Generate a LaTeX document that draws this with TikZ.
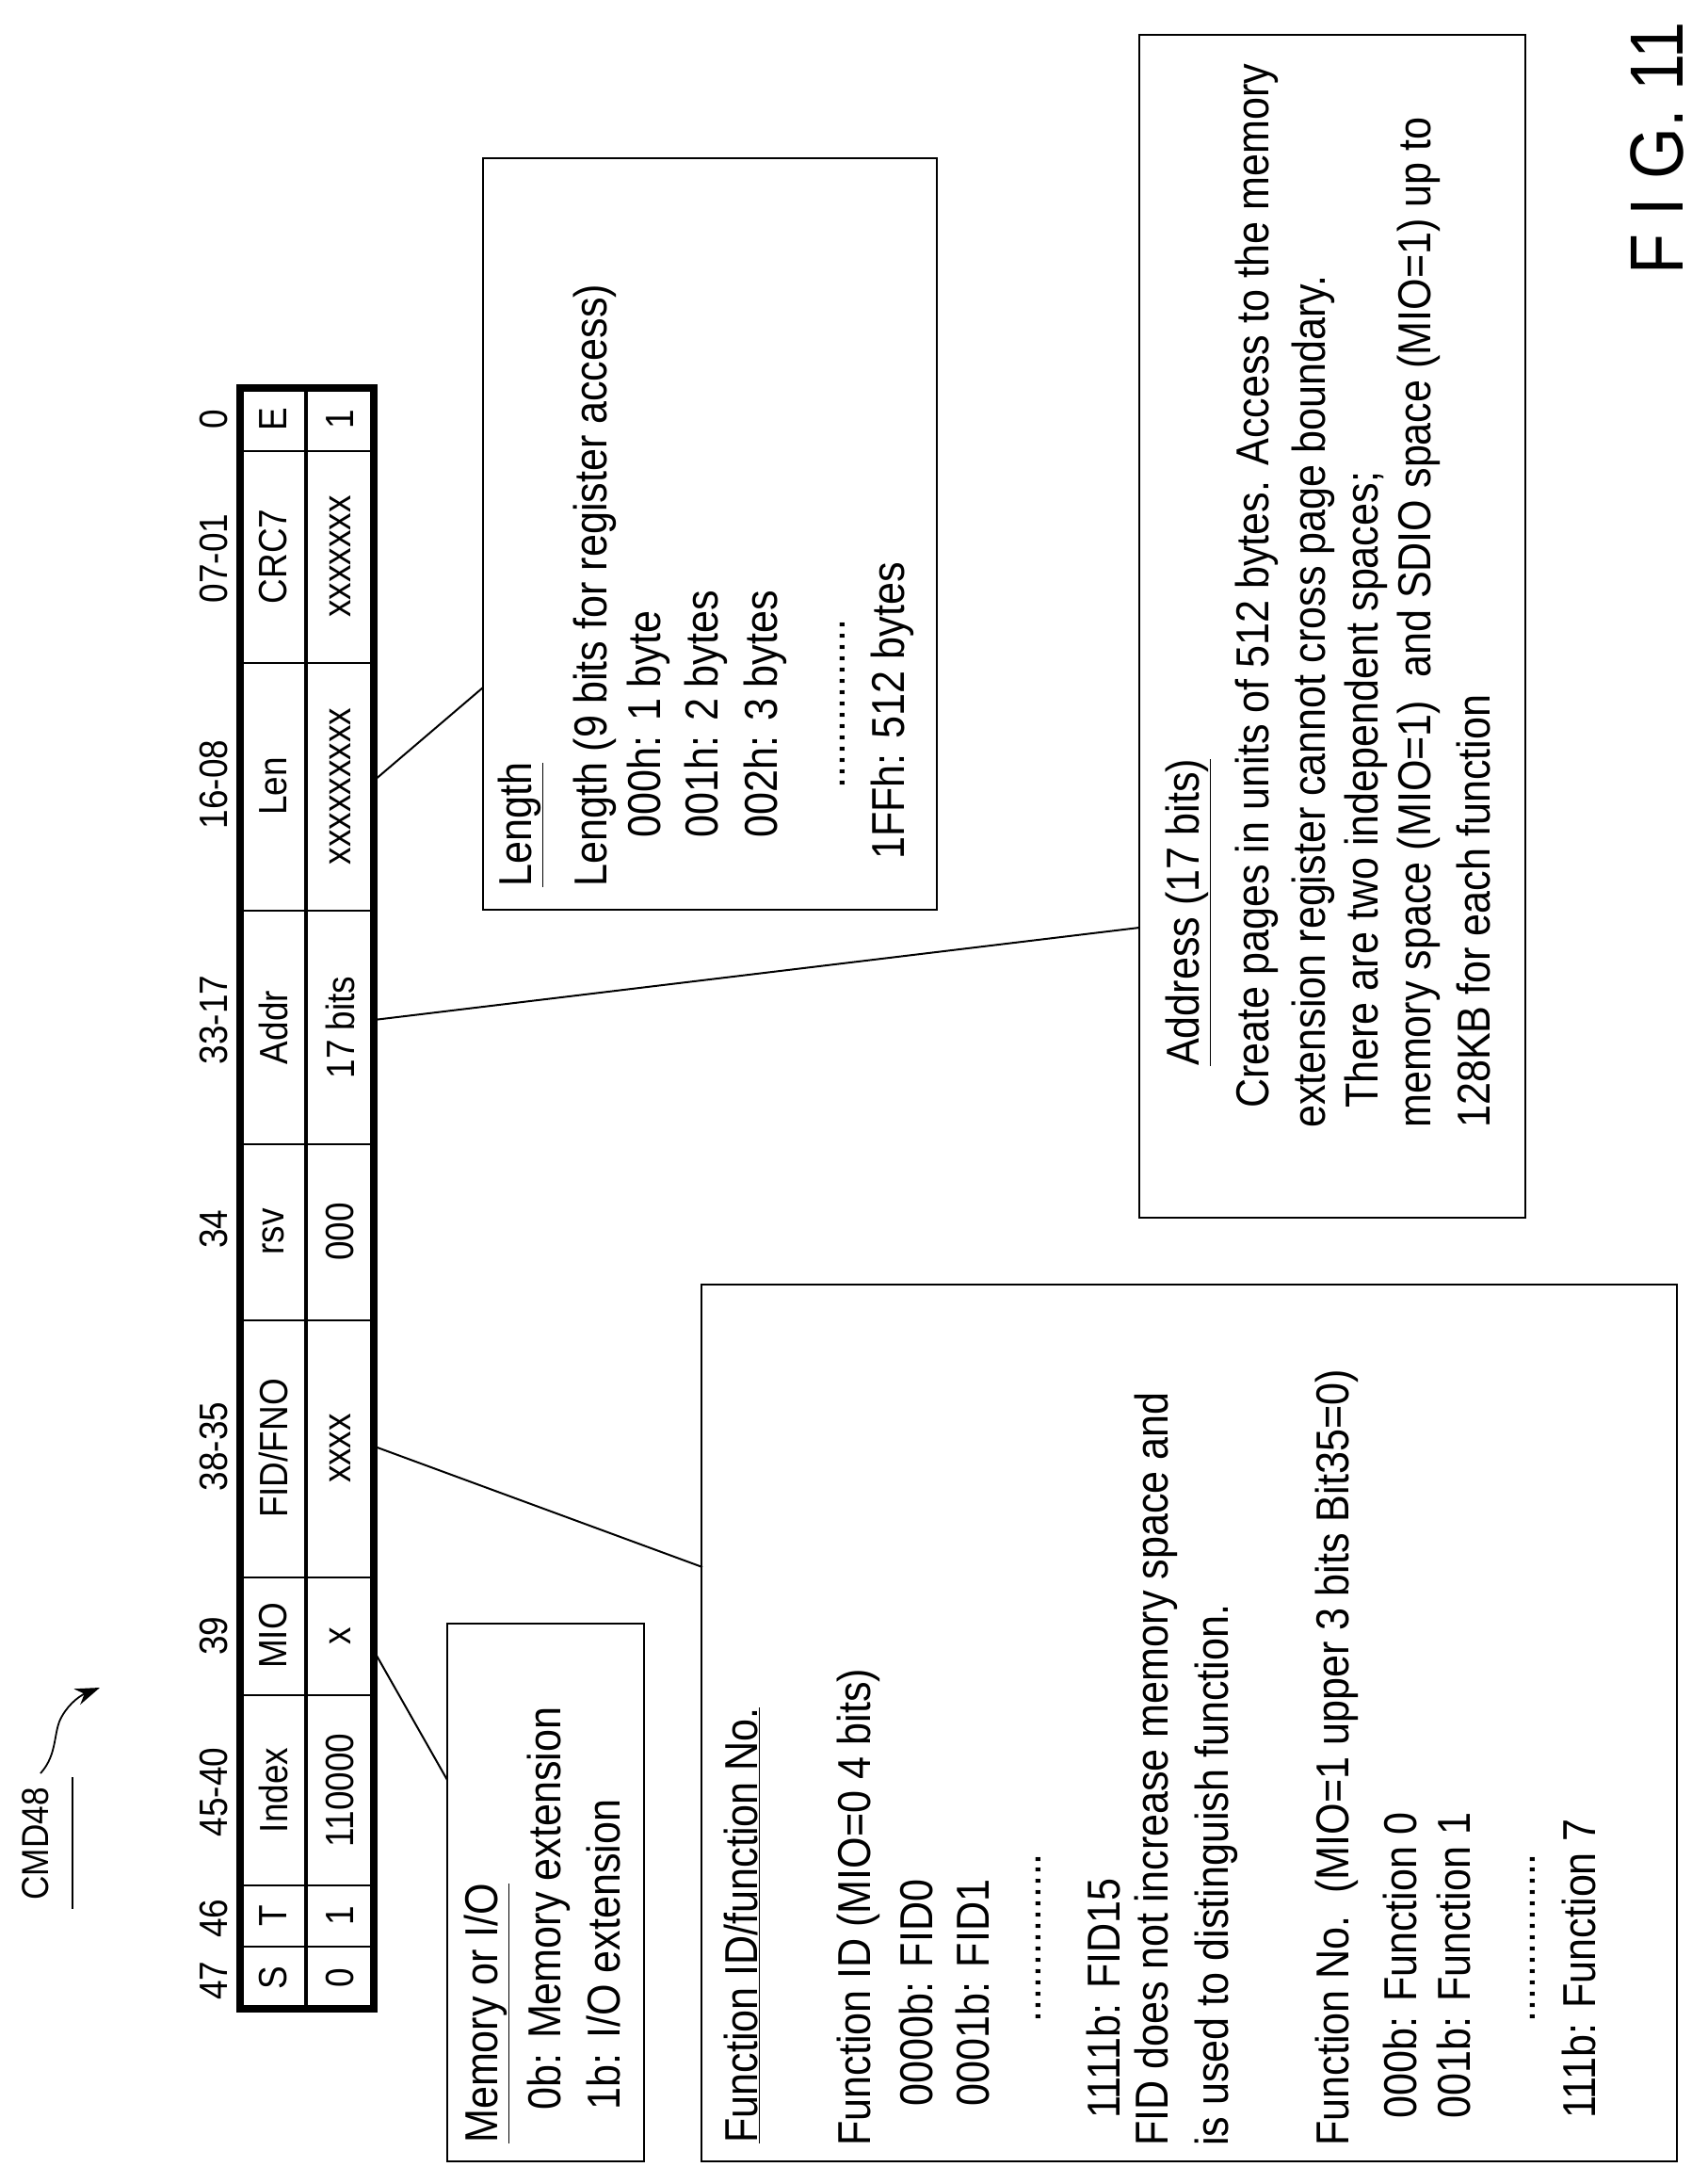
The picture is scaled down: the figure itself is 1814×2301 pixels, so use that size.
\documentclass[tikz,border=0pt]{standalone}
\usepackage{fontspec}
\setmainfont{Liberation Sans}[FakeStretch=0.88]
\usetikzlibrary{arrows.meta}
\newcommand\fsTab{\fontsize{42}{50}\selectfont}
\newcommand\fsBx{\fontsize{49}{58}\selectfont}
\newcommand\fsFg{\fontsize{80}{90}\selectfont}
\begin{document}
\begin{tikzpicture}[x=1pt,y=-1pt,
  cell/.style={rotate=90,inner sep=0,font=\fsTab},
  txt/.style={rotate=90,anchor=west,inner sep=0,font=\fsBx},
  bx/.style={draw,line width=2.5pt},
  conn/.style={line width=2pt}]
\useasboundingbox (0,0) rectangle (1814,2301);
% table
\draw[line width=2pt] (255,479)--(397,479) (255,704)--(397,704) (255,967)--(397,967)
  (255,1215)--(397,1215) (255,1402)--(397,1402) (255,1675)--(397,1675)
  (255,1800)--(397,1800) (255,2002)--(397,2002) (255,2067)--(397,2067);
\draw[line width=3.5pt] (325,412)--(325,2133);
\node[draw,line width=8pt,minimum width=142pt,minimum height=1721pt,inner sep=0] (tbl) at (326,1272.5) {};
% bit labels
\foreach \t/\y [count=\i] in {0/445,07-01/593,16-08/833,33-17/1083,34/1305,38-35/1536,39/1737,45-40/1903,46/2037,47/2103}
  \node[cell] (b\i) at (227,\y) {\t};
% headers
\foreach \t/\y [count=\i] in {E/445,CRC7/591,Len/835,Addr/1091,rsv/1308,{FID/FNO}/1538,MIO/1737,Index/1901,T/2034,S/2100}
  \node[cell] (h\i) at (290,\y) {\t};
\foreach \t/\y [count=\i] in {1/445,xxxxxxx/591,xxxxxxxxx/835,17 bits/1091,000/1308,xxxx/1538,x/1737,110000/1901,1/2034,0/2100}
  \node[cell] (v\i) at (361,\y) {\t};
% CMD48
\node[cell,font=\fontsize{40}{48}\selectfont] (cmd) at (38,1958) {CMD48};
\draw[line width=2pt] (77,1887)--(77,2027);
\coordinate (ca) at (43,1883);
\coordinate (cb) at (106,1792);
\draw[line width=1.8pt,-{Stealth[length=26pt,width=18pt]}] (ca) .. controls (62,1862) and (56,1838) .. (66,1822) .. controls (74,1808) and (86,1800) .. (cb);
% FIG
\node[rotate=90,anchor=west,inner sep=0,font=\fsFg] (fig) at (1760,292) {F I G. 11};
% boxes
\node[bx,minimum width=209pt,minimum height=571pt,inner sep=0] (mbox) at (579.5,2009.5) {};
\node[bx,minimum width=1036pt,minimum height=931pt,inner sep=0] (fbox) at (1263,1829.5) {};
\node[bx,minimum width=482pt,minimum height=798pt,inner sep=0] (lbox) at (754,567) {};
\node[bx,minimum width=410pt,minimum height=1256pt,inner sep=0] (abox) at (1415,665) {};
% connectors
\coordinate (c1) at (397,829); \coordinate (c2) at (397,1083);
\coordinate (c3) at (398,1536); \coordinate (c4) at (400,1758);
\draw[conn] (c1)--(513,730) (c2)--(1210,985) (c3)--(746,1664) (c4)--(475,1890);
% memory box text
\node[txt] (m1) at (517,2276) {\underline{Memory or I/O}};
\node[txt] (m2) at (583,2241) {0b: Memory extension};
\node[txt] (m3) at (641,2241) {1b: I/O extension};
% function box text
\node[txt] (f1) at (788,2276) {\underline{Function ID/function No.}};
\node[txt] (f2) at (912,2279) {Function ID (MIO=0 4 bits)};
\node[txt] (f3) at (973,2237) {0000b: FID0};
\node[txt] (f4) at (1033,2237) {0001b: FID1};
\node[txt] (f5) at (1103,2148) {...............};
\node[txt] (f6) at (1172,2250) {1111b: FID15};
\node[txt] (f7) at (1228,2279) {FID does not increase memory space and};
\node[txt] (f8) at (1292,2279) {is used to distinguish function.};
\node[txt] (f9) at (1420,2279) {Function No.\ \ (MIO=1 upper 3 bits Bit35=0)};
\node[txt] (f10) at (1487,2250) {000b: Function 0};
\node[txt] (f11) at (1544,2250) {001b: Function 1};
\node[txt] (f12) at (1628,2148) {...............};
\node[txt] (f13) at (1677,2250) {111b: Function 7};
% length box text
\node[txt] (l1) at (553,942) {\underline{Length}};
\node[txt] (l2) at (632,942) {Length (9 bits for register access)};
\node[txt] (l3) at (689,890) {000h: 1 byte};
\node[txt] (l4) at (750,890) {001h: 2 bytes};
\node[txt] (l5) at (813,890) {002h: 3 bytes};
\node[txt] (l6) at (895,838) {...............};
\node[txt] (l7) at (948,913) {1FFh: 512 bytes};
% address box text
\node[txt] (a1) at (1262,1132) {\underline{Address (17 bits)}};
\node[txt] (a2) at (1335,1177) {Create pages in units of 512 bytes. Access to the memory};
\node[txt] (a3) at (1395,1198) {extension register cannot cross page boundary.};
\node[txt] (a4) at (1451,1177) {There are two independent spaces;};
\node[txt] (a5) at (1507,1198) {memory space (MIO=1)\ \ and SDIO space (MIO=1)\ up to};
\node[txt] (a6) at (1565,1198) {128KB for each function};
\end{tikzpicture}
\end{document}
